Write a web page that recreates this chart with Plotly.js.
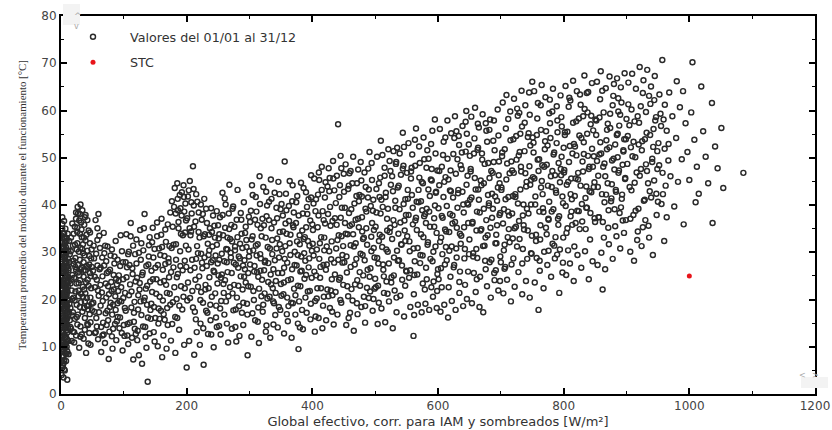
<!DOCTYPE html>
<html>
<head>
<meta charset="utf-8">
<script src="https://cdn.plot.ly/plotly-3.0.1.min.js"></script>
<style>html,body{margin:0;padding:0;background:#fff;}#chart{width:832px;height:430px;}</style>
</head>
<body>
<div id="chart"></div>
<script>
// Points: [irradiance W/m², module temperature °C], grouped by irradiance band
const band0to10 = [[1,4],[3,6],[2,8],[5,9],[1,10],[4,11],[7,12],[2,13],[6,14],[3,15],[8,16],[1,17],[5,18],[9,19],[2,20],[4,21],[7,22],[3,23],[6,24],[1,25],[8,26],[4,27],[2,28],[5,29],[9,30],[3,31],[6,32],[1,33],[4,34],[7,35],[2,36],
[6,5],[8,7],[4,8],[1,9],[9,10],[3,11],[6,12],[1,13],[8,14],[5,15],[2,16],[7,17],[4,18],[1,19],[6,20],[9,21],[3,22],[5,23],[1,24],[7,25],[3,26],[9,27],[6,28],[1,29],[4,30],[8,31],[2,32],[6,33],[3,34],
[2,5.5],[5,7],[9,8.5],[3,9.5],[7,10.5],[1,11.5],[5,12.5],[9,13.5],[3,14.5],[7,15.5],[1,16.5],[5,17.5],[3,18.5],[8,19.5],[1,20.5],[5,21.5],[8,22.5],[2,23.5],[6,24.5],[4,25.5],[1,26.5],[6,27.5],[3,29.5],[7,30.5],
[10,3],[4,3.5],[8,12],[2,14],[10,16],[6,18],[10,20],[2,22],[10,24],[4,24],[8,28],[2,30],[10,9],[6,10],[10,13],[7,19],[3,20],[9,25],[5,26],[2,27],[7,29],[5,31],[9,33],[3,16.5],[4,13],[8,18],[6,21],[1,22],[10,27],[7,32],[5,34],[2,35],[8,11],[4,6.5],[6,15],[10,18.5],[2,11],[7,23],[9,17],[1,15],[4,19.5]];
const core0to12 = [[0.5,12.3],[2.5,18.7],[4.5,24.1],[6.5,9.8],[8.5,15.2],[1.5,28.6],[3.5,21.4],[5.5,31.7],[7.5,26.9],[9.5,11.6],[0.8,19.4],[2.2,25.8],[3.8,7.9],[5.2,13.9],[6.8,29.3],[8.2,20.8],[9.8,23.6],[11,14.1],[12,26.2],[11.5,30.4],[0.3,33.6],[1.7,6.8],[3.1,16.2],[4.7,27.1],[6.1,22.9],[7.3,17.6],[8.9,32.4],[10.4,21.7],[11.8,11.2],[2.8,31.2],[4.1,10.4],[5.9,19.1],[7.7,13.4],[9.1,27.8],[10.7,33.9],[1.2,23.2],[3.4,29.9],[5.6,15.8],[7.1,8.6],[8.7,24.9],[10.1,17.2],[11.3,19.9],[0.6,15.3],[2.4,11.9],[4.3,33.1],[6.3,26.3],[8.1,30.2],[9.6,14.7],[0.9,26.9],[3.7,20.1],[6.6,17.9],[9.3,22.2],[12.5,23.8],[11.9,16.7],[1.4,8.1],[5.1,5.2],[7.9,21.3],[10.9,28.7],[4.9,36.6],[2.1,37.4]];
const band10to50 = [[12,8.4],[17,11.2],[14,15.6],[21,13.1],[11,19.8],[19,17.3],[15,23.4],[23,21.7],[13,27.9],[18,25.2],[25,30.6],[16,33.1],[22,35.4],[27,38.2],[31,40.1],[29,36.7],[34,38.9],[37,35.8],[33,33.2],[26,31.9],[39,32.5],[30,28.4],[35,29.8],[24,26.3],[41,27.1],[28,23.5],[36,24.8],[32,21.2],[44,22.9],[20,20.4],[38,19.6],[27,16.8],[43,17.9],[31,14.3],[47,15.2],[24,12.4],[36,11.7],[45,12.9],[29,9.8],[40,8.7],[49,19.1],[46,25.6],[42,30.3],[48,28.7],[44,34.6],[38,37.4],[35,31.7],[30,33.9],[26,35.2],[23,28.8],[19,31.4],[14,29.6],[12,24.7],[17,21.9],[21,24.6],[25,18.9],[33,26.7],[37,22.1],[41,20.3],[34,17.4],[28,20.7],[22,15.9],[16,13.8],[43,14.6],[39,26.2],[31,30.9],[27,27.3],[45,29.2],[48,22.4],[36,27.9],[32,36.3],[24,38.4],[20,27.5],[13,32.4],[18,36.1],[42,36.8],[46,31.9],[49,26.9],[40,23.6],[29,25.1],[35,20.6],[26,14.7],[38,16.1],[44,18.7],[33,12.6],[47,10.4],[21,10.9],[15,18.2],[11,22.8],[30,18.4]];
const core10to50 = [[13.4,19.1],[16.7,24.3],[19.6,28.2],[22.3,31.6],[25.8,34.3],[28.4,30.1],[31.2,26.4],[34.7,22.7],[37.3,29.3],[40.6,33.7],[43.2,26.8],[46.8,20.4],[14.9,14.2],[18.3,16.6],[21.7,19.8],[24.6,23.4],[27.9,21.9],[30.5,24.1],[33.8,30.7],[36.4,33.1],[39.1,37.9],[42.5,24.2],[45.7,16.9],[48.6,30.6],[11.8,26.6],[15.6,30.2],[20.2,33.9],[23.9,37.1],[26.5,39.6],[29.8,38.1],[32.6,34.8],[35.9,26.1],[38.8,21.3],[41.4,18.6],[44.9,27.4],[47.3,24.9],[12.6,17.4],[17.9,20.1],[22.8,26.9],[27.1,25.7],[31.9,19.4],[36.8,18.2],[41.9,14.8],[46.2,34.2],[18.9,13.2],[25.1,16.3],[30.9,12.1],[37.9,13.6],[43.6,10.7],[49.4,17.7]];
const band50to100 = [[52,31.4],[55,36.8],[58,27.2],[61,33.5],[54,22.6],[63,18.7],[57,14.3],[66,24.9],[69,29.8],[72,20.4],[75,15.6],[78,26.3],[81,12.2],[84,22.1],[87,17.8],[90,28.4],[93,13.9],[96,19.6],[99,24.3],[53,17.4],[59,11.6],[64,8.9],[70,10.8],[76,7.4],[82,9.6],[88,11.4],[94,16.2],[98,9.2],[51,26.1],[56,29.7],[60,20.8],[67,15.1],[73,25.6],[79,19.3],[85,27.6],[91,21.8],[97,30.2],[62,30.9],[68,34.1],[74,31.2],[80,23.7],[86,14.8],[92,25.1],[95,33.6],[57,24.2],[65,21.5],[71,17.1],[77,13.2],[83,18.9],[89,23.2],[100,14.6],[54,12.9],[63,26.7],[72,28.1],[81,30.6],[90,19.2],[58,35.1],[66,12.4],[75,22.8],[87,32.4]];
const core50to100 = [[51.4,19.3],[53.7,24.8],[56.2,16.1],[58.8,21.9],[61.3,26.4],[63.9,14.2],[66.4,19.7],[68.7,27.2],[71.2,23.4],[73.8,17.6],[76.3,21.1],[78.9,29.3],[81.5,16.8],[83.8,25.2],[86.4,20.7],[88.9,15.4],[91.6,23.9],[94.2,27.1],[96.7,12.9],[99.1,20.3],[52.6,28.7],[55.3,13.1],[57.9,32.6],[60.4,17.3],[62.8,23.1],[65.6,28.9],[67.9,12.6],[70.3,31.4],[72.7,14.6],[75.4,25.9],[77.8,18.4],[80.6,21.8],[82.9,13.8],[85.2,29.1],[87.7,24.4],[90.3,16.3],[92.9,19.7],[95.8,22.6],[98.4,27.9],[59.6,38.1]];
const band100to200 = [[102,21.4],[106,14.8],[109,27.3],[113,11.9],[117,19.5],[121,24.6],[124,8.2],[128,16.7],[131,30.4],[135,22.3],[138,2.6],[141,12.8],[144,26.1],[148,18.4],[104,33.8],[111,36.2],[118,29.6],[126,34.7],[133,38.1],[140,31.5],[146,35.2],[107,10.6],[115,7.3],[122,13.4],[129,6.4],[136,9.8],[143,15.9],[149,11.1],[103,17.6],[110,23.2],[116,15.3],[123,20.9],[130,25.7],[137,18.9],[145,21.6],[105,26.8],[112,18.3],[119,12.7],[127,28.4],[134,14.2],[142,23.8],[147,28.9],[108,30.1],[114,25.4],[120,32.7],[125,22.1],[132,19.8],[139,27.4],[150,16.1],[101,12.3],
[152,24.3],[156,30.8],[159,17.6],[163,12.4],[166,27.5],[170,35.9],[173,21.2],[177,14.8],[180,39.6],[183,31.7],[186,25.4],[189,42.1],[192,37.8],[195,44.2],[198,40.3],[154,10.1],[161,7.8],[168,9.6],[175,11.3],[182,8.7],[188,13.6],[196,10.4],[200,5.6],[157,20.6],[164,23.9],[171,28.7],[178,19.4],[185,16.1],[191,22.8],[197,28.2],[153,33.4],[160,37.1],[167,32.2],[174,38.4],[181,43.6],[187,35.1],[194,33.6],[199,36.7],[155,14.9],[162,26.3],[169,18.2],[176,30.9],[184,20.1],[190,27.1],[193,17.9],[158,29.4],[165,15.7],[172,24.7],[179,26.8],[186,38.9],[197,22.4]];
const core100to200 = [[101.6,18.2],[104.3,24.7],[106.9,29.6],[109.5,15.1],[112.2,21.7],[114.8,31.4],[117.4,13.8],[120.1,27.6],[122.7,17.9],[125.3,23.5],[127.9,31.9],[130.6,14.3],[133.2,20.4],[135.8,27.1],[138.4,16.2],[141.1,33.2],[143.7,19.1],[146.3,24.3],[148.9,30.7],[151.5,21.2],[154.2,27.3],[156.8,15.9],[159.4,33.7],[162.1,19.8],[164.7,29.2],[167.3,23.1],[169.9,14.6],[172.6,31.3],[175.2,25.8],[177.8,35.4],[180.4,22.6],[183.1,28.4],[185.7,41.3],[188.3,18.7],[190.9,33.9],[193.6,26.2],[196.2,38.6],[198.8,31.4],[102.9,27.9],[105.6,12.4],[108.2,20.9],[110.8,33.4],[113.5,26.6],[116.1,17.2],[118.7,23.8],[121.4,11.4],[124,29.9],[126.6,19.6],[129.2,25.2],[131.9,35.1],[134.5,12.1],[137.1,22.9],[139.7,29.1],[142.4,17.8],[145,32.1],[147.6,13.1],[150.2,26.7],[152.9,36.3],[155.5,18.1],[158.1,23.6],[160.8,31.1],[163.4,16.9],[166,34.8],[168.6,21.4],[171.3,27.9],[173.9,18.9],[176.5,40.8],[179.1,31.6],[181.8,16.3],[184.4,24.7],[187,36.4],[189.6,30.2],[192.3,42.7],[194.9,20.6],[197.5,34.2],[199.4,26.9],[185.1,44.6],[190.2,39.3],[195.7,41.7],[182.6,38.2]];
const band200to300 = [[202,41.8],[205,45.1],[208,38.2],[211,43.4],[214,36.5],[217,40.7],[210,48.2],[219,34.3],[203,30.6],[206,26.2],[209,21.8],[213,17.4],[216,13.1],[220,24.9],[223,29.7],[226,19.3],[229,33.8],[232,27.1],[235,22.4],[238,15.6],[241,31.2],[244,25.8],[247,18.7],[250,35.7],[204,11.2],[212,8.3],[221,10.4],[227,6.2],[234,12.7],[243,9.9],[248,14.2],[207,34.4],[215,28.6],[224,36.9],[231,39.2],[237,35.1],[240,20.6],[246,29.3],[201,19.8],[218,22.7],[225,26.6],[233,17.2],[239,27.9],[245,33.1],[249,23.4],[222,14.9],[228,41.3],[236,30.4],[242,37.8],[230,23.1],
[252,28.4],[255,19.7],[258,33.6],[261,24.1],[264,14.9],[267,38.2],[270,29.9],[273,21.3],[276,35.4],[279,11.1],[282,26.7],[285,31.8],[288,17.2],[291,40.6],[294,23.6],[297,8.2],[300,30.2],[253,37.4],[257,42.6],[262,40.1],[268,44.3],[274,39.7],[281,43.2],[287,36.9],[293,34.1],[299,37.5],[254,12.6],[260,16.8],[266,10.9],[272,13.8],[278,17.9],[284,12.3],[290,14.6],[296,19.1],[256,25.3],[263,30.7],[269,22.6],[275,27.8],[280,20.4],[286,24.9],[292,28.3],[298,25.6],[259,21.4],[265,33.1],[271,35.8],[277,31.2],[283,29.1],[289,22.1],[295,32.6],[251,32.9]];
const core200to300 = [[200.8,37.2],[203.4,43.1],[206.1,33.6],[208.7,28.4],[211.3,39.9],[213.9,24.2],[216.6,31.3],[219.2,38.4],[221.8,19.9],[224.4,27.8],[227.1,33.4],[229.7,22.1],[232.3,36.2],[234.9,29.4],[237.6,18.9],[240.2,34.3],[242.8,26.1],[245.4,21.3],[248.1,31.6],[250.7,25.1],[253.3,18.1],[255.9,29.7],[258.6,23.3],[261.2,35.2],[263.8,27.9],[266.4,20.7],[269.1,32.8],[271.7,25.6],[274.3,17.7],[276.9,30.4],[279.6,36.9],[282.2,22.9],[284.8,28.7],[287.4,33.9],[290.1,19.3],[292.7,26.4],[295.3,31.1],[297.9,22.8],[202.1,23.6],[204.7,35.1],[207.4,40.6],[210,18.3],[212.6,26.7],[215.2,42.3],[217.9,29.8],[220.5,33.1],[223.1,21.6],[225.7,38.1],[228.4,28.9],[231,17.6],[233.6,31.8],[236.2,24.7],[238.9,39.3],[241.5,28.3],[244.1,35.6],[246.7,16.2],[249.4,27.6],[252,33.8],[254.6,24.6],[257.2,37.9],[259.9,28.1],[262.5,19.6],[265.1,25.8],[267.7,34.9],[270.4,28.9],[273,39.2],[275.6,23.1],[278.2,27.4],[280.9,33.2],[283.5,18.6],[286.1,38.3],[288.7,30.9],[291.4,24.8],[294,35.4],[296.6,16.8],[299.2,29.1],[205.4,20.3],[214.6,15.8],[226.4,13.9],[239.1,12.6],[251.6,14.4],[264.8,30.6],[277.5,14.2],[289.8,27.2],[211.8,35.4],[222.6,40.1],[235.7,33.7],[247.9,38.7],[260.6,41.4],[272.3,32.3]];
const band300to400 = [[302,22.7],[305,33.4],[308,27.1],[311,38.6],[314,18.3],[317,29.6],[320,24.2],[323,35.7],[326,13.2],[329,31.1],[332,20.6],[335,41.3],[338,26.4],[341,16.7],[344,37.2],[347,28.9],[350,23.3],[304,44.2],[310,41.7],[316,46.1],[322,43.8],[328,39.9],[334,45.4],[340,42.6],[346,44.9],[303,12.1],[309,15.6],[315,10.8],[321,17.4],[327,14.5],[333,11.9],[339,19.2],[345,14.1],[349,17.8],[306,30.4],[312,25.8],[318,35.1],[324,21.3],[330,27.7],[336,32.6],[342,23.9],[348,34.3],[301,36.4],[307,19.9],[313,31.7],[319,20.7],[325,28.2],[331,36.8],[337,22.4],[343,30.8],
[352,25.6],[356,49.2],[359,33.9],[362,18.6],[365,29.4],[368,40.8],[371,22.3],[374,36.2],[377,14.9],[380,31.7],[383,26.1],[386,43.6],[389,20.4],[392,38.1],[395,28.7],[398,46.3],[378,9.5],[355,12.8],[361,15.4],[367,11.9],[373,16.8],[385,13.7],[391,17.2],[397,15.8],[353,37.8],[358,42.4],[364,45.1],[370,35.3],[376,41.9],[382,44.7],[388,33.2],[394,41.2],[400,35.9],[354,21.1],[360,27.8],[366,24.3],[372,30.1],[379,19.6],[384,34.6],[390,25.2],[396,21.8],[357,31.3],[363,36.6],[369,19.2],[375,27.2],[381,22.8],[387,29.8],[393,32.4],[399,24.6],[351,40.2]];
const core300to400 = [[300.9,27.4],[303.5,32.7],[306.2,21.8],[308.8,36.9],[311.4,29.3],[314,24.8],[316.7,40.2],[319.3,33.4],[321.9,18.9],[324.5,27.9],[327.2,37.6],[329.8,23.7],[332.4,30.8],[335,35.1],[337.7,19.6],[340.3,28.3],[342.9,39.4],[345.5,25.6],[348.2,31.7],[350.8,20.8],[353.4,34.4],[356,28.6],[358.7,38.9],[361.3,24.1],[363.9,31.9],[366.5,19.3],[369.2,35.7],[371.8,27.3],[374.4,40.6],[377,22.9],[379.7,33.6],[382.3,29.1],[384.9,38.2],[387.5,24.4],[390.2,35.3],[392.8,21.7],[395.4,31.4],[398,41.6],[302.2,38.8],[304.8,17.1],[307.5,25.9],[310.1,31.4],[312.7,35.8],[315.3,22.3],[318,28.7],[320.6,37.1],[323.2,26.2],[325.8,33.1],[328.5,20.2],[331.1,40.7],[333.7,25.3],[336.3,29.6],[339,36.3],[341.6,21.4],[344.2,32.9],[346.8,18.4],[349.5,39.1],[352.1,30.2],[354.7,23.6],[357.3,36.1],[360,20.4],[362.6,39.8],[365.2,33.7],[367.8,26.4],[370.5,38.4],[373.1,20.9],[375.7,32.3],[378.3,37.8],[381,25.9],[383.6,17.8],[386.2,32.8],[388.8,28.2],[391.5,39.6],[394.1,26.8],[396.7,36.7],[399.3,30.3],[305.1,42.1],[313.2,15.3],[326.6,42.8],[338.1,14.7],[347.7,42.3],[359.4,16.9],[368.6,44.2],[380.2,14.1],[389.9,42.7],[397.6,19.1],[317.5,26.1],[334.4,23.2],[355.1,26.7],[376.8,29.4]];
const band400to500 = [[402,29.3],[405,38.7],[408,22.4],[411,45.3],[414,33.2],[417,18.7],[420,41.6],[423,27.4],[426,47.8],[429,35.6],[432,20.9],[435,43.1],[438,30.8],[441,57.1],[444,24.6],[447,39.4],[450,46.6],[404,13.2],[410,16.1],[416,13.9],[422,15.6],[428,18.2],[434,14.7],[440,16.8],[446,19.3],[403,45.6],[409,42.2],[415,48.1],[421,44.8],[427,42.9],[433,49.3],[439,46.2],[445,50.4],[406,25.1],[412,31.9],[418,36.8],[424,22.1],[430,28.5],[436,37.2],[442,33.6],[448,27.8],[401,34.7],[407,20.2],[413,26.9],[419,30.4],[425,38.1],[431,24.3],[437,21.6],[443,41.7],[449,31.3],
[452,36.2],[455,25.7],[458,44.1],[461,31.5],[464,19.8],[467,40.3],[470,28.6],[473,47.5],[476,22.9],[479,37.4],[482,33.1],[485,43.8],[488,26.3],[491,51.2],[494,30.2],[497,41.1],[500,24.4],[454,14.6],[460,17.2],[466,13.4],[472,16.9],[478,18.4],[484,15.1],[490,20.3],[496,17.6],[453,48.6],[459,46.7],[465,50.2],[471,44.6],[477,49.1],[483,46.9],[489,47.7],[495,45.3],[456,33.8],[462,39.1],[468,23.2],[474,35.3],[480,29.4],[486,38.6],[492,21.7],[498,34.7],[451,27.9],[457,20.7],[463,35.9],[469,31.9],[475,42.1],[481,25.1],[487,22.5],[493,39.8],[499,28.9]];
const core400to500 = [[400.6,31.8],[403.2,25.9],[405.9,41.2],[408.5,35.3],[411.1,28.6],[413.7,22.4],[416.4,38.7],[419,33.1],[421.6,26.3],[424.2,43.9],[426.9,30.2],[429.5,21.9],[432.1,36.6],[434.7,27.8],[437.4,40.4],[440,32.6],[442.6,24.2],[445.2,37.3],[447.9,29.4],[450.5,42.8],[453.1,33.9],[455.7,22.8],[458.4,38.3],[461,26.9],[463.6,44.6],[466.2,31.2],[468.9,36.9],[471.5,24.1],[474.1,40.8],[476.7,29.7],[479.4,34.4],[482,20.6],[484.6,39.2],[487.2,31.6],[489.9,43.3],[492.5,26.6],[495.1,36.2],[497.7,30.9],[401.9,40.3],[404.5,19.7],[407.2,30.6],[409.8,37.8],[412.4,24.6],[415,43.2],[417.7,27.3],[420.3,36.1],[422.9,31.2],[425.5,20.7],[428.2,39.6],[430.8,32.3],[433.4,45.6],[436,25.3],[438.7,35.8],[441.3,28.4],[443.9,44.2],[446.5,33.4],[449.2,23.1],[451.8,39.4],[454.4,29.1],[457,43.4],[459.7,35.6],[462.3,22.2],[464.9,33.8],[467.5,27.4],[470.2,41.9],[472.8,37.1],[475.4,25.8],[478,45.2],[480.7,32.8],[483.3,28.3],[485.9,35.1],[488.5,41.6],[491.2,24.8],[493.8,33.3],[496.4,38.8],[499,22.3],[405.2,16.4],[418.3,20.6],[431.5,17.4],[444.6,19.9],[457.8,16.1],[470.9,19.2],[484.1,18.6],[497.3,20.1],[410.4,46.9],[427.6,45.7],[446.1,47.8],[460.9,47.2],[478.8,41.8],[494.4,48.9]];
const band500to600 = [[502,38.4],[505,27.6],[508,45.8],[511,33.3],[514,21.4],[517,42.6],[520,30.1],[523,49.3],[526,24.7],[529,36.8],[532,40.9],[535,52.1],[538,28.3],[541,46.4],[544,55.3],[547,34.6],[550,25.9],[504,14.8],[510,18.1],[516,15.2],[522,19.6],[528,13.9],[534,17.3],[540,20.8],[546,16.4],[503,50.2],[509,53.6],[515,47.9],[521,51.8],[527,46.1],[533,48.7],[539,50.9],[545,48.3],[506,32.4],[512,39.6],[518,23.8],[524,35.2],[530,28.9],[536,43.7],[542,31.6],[548,41.2],[501,22.6],[507,41.7],[513,26.3],[519,37.1],[525,44.3],[531,21.9],[537,33.9],[543,24.2],[549,37.9],
[552,41.3],[555,30.2],[558,47.9],[561,12.3],[564,36.7],[567,25.3],[570,52.4],[573,33.8],[576,44.6],[579,22.1],[582,39.2],[585,49.8],[588,28.6],[591,55.7],[594,35.4],[597,42.8],[600,26.4],[556,18.4],[562,16.7],[568,18.9],[574,17.3],[580,19.1],[586,17.8],[592,20.6],[598,18.2],[553,53.1],[559,50.7],[565,56.2],[571,48.9],[577,54.3],[583,51.6],[589,52.9],[595,58.1],[554,24.6],[560,35.9],[566,40.7],[572,29.4],[578,37.6],[584,32.1],[590,45.2],[596,31.2],[557,45.6],[563,28.1],[569,43.2],[575,38.9],[581,26.7],[587,41.9],[593,23.8],[599,47.3],[551,33.4]];
const core500to600 = [[500.7,35.4],[503.3,28.8],[506,44.6],[508.6,38.2],[511.2,31.1],[513.8,24.9],[516.5,41.7],[519.1,34.6],[521.7,27.6],[524.3,47.2],[527,32.8],[529.6,25.1],[532.2,39.4],[534.8,30.3],[537.5,44.1],[540.1,36.3],[542.7,27.2],[545.3,40.2],[548,32.4],[550.6,46.8],[553.2,37.9],[555.8,26.2],[558.5,42.1],[561.1,30.8],[563.7,48.3],[566.3,34.7],[569,40.6],[571.6,27.7],[574.2,44.9],[576.8,33.2],[579.5,38.1],[582.1,24.3],[584.7,43.3],[587.3,35.4],[590,47.6],[592.6,30.1],[595.2,39.9],[597.8,34.1],[502,43.4],[504.6,22.9],[507.3,33.7],[509.9,41.1],[512.5,27.4],[515.1,46.2],[517.8,30.6],[520.4,39.2],[523,34.3],[525.6,23.6],[528.3,42.9],[530.9,35.8],[533.5,49.1],[536.1,28.2],[538.8,39.1],[541.4,31.7],[544,47.7],[546.6,36.7],[549.3,26.1],[551.9,43.2],[554.5,32.3],[557.1,47.1],[559.8,39.4],[562.4,25.2],[565,37.3],[567.6,30.9],[570.3,45.8],[572.9,40.8],[575.5,29.3],[578.1,49.7],[580.8,36.2],[583.4,31.6],[586,38.6],[588.6,45.4],[591.3,28.1],[593.9,37.2],[596.5,42.6],[599.1,25.4],[505.8,19.3],[519.7,21.2],[533.9,20.4],[547.8,22.9],[561.6,21.1],[575.8,23.4],[589.4,22.6],[598.6,21.8],[511.6,50.6],[529.2,51.4],[545.8,52.3],[563.3,53.8],[581.7,47.9],[596.1,50.9]];
const band600to700 = [[602,44.2],[605,33.1],[608,50.6],[611,27.4],[614,39.8],[617,22.6],[620,47.3],[623,36.1],[626,54.2],[629,30.8],[632,42.5],[635,25.9],[638,51.1],[641,38.4],[644,57.6],[647,46.2],[650,32.7],[604,17.4],[610,18.9],[616,16.2],[622,19.7],[628,17.8],[634,21.4],[640,18.6],[646,20.1],[603,56.1],[609,53.4],[615,57.9],[621,55.2],[627,58.8],[633,54.6],[639,56.7],[645,59.9],[606,37.7],[612,45.9],[618,30.3],[624,41.6],[630,35.2],[636,48.4],[642,28.7],[648,40.1],[601,24.3],[607,29.6],[613,34.4],[619,43.1],[625,26.8],[631,49.7],[637,33.5],[643,23.1],[649,52.8],
[652,47.6],[655,36.4],[658,54.1],[661,30.7],[664,43.3],[667,24.8],[670,50.9],[673,39.2],[676,57.3],[679,33.6],[682,45.7],[685,28.4],[688,53.6],[691,41.8],[694,35.7],[697,49.2],[700,27.9],[654,19.2],[660,21.6],[666,18.4],[672,17.3],[678,22.8],[684,20.4],[690,24.1],[696,21.9],[653,58.7],[659,60.6],[665,56.4],[671,59.2],[677,55.7],[683,58.1],[689,57.9],[695,60.2],[656,29.1],[662,38.6],[668,45.2],[674,31.4],[680,48.9],[686,37.3],[692,26.2],[698,44.6],[651,41.1],[657,25.6],[663,51.7],[669,34.9],[675,28.2],[681,40.4],[687,46.8],[693,31.9],[699,38.3]];
const core600to700 = [[600.8,39.3],[603.4,32.2],[606.1,48.1],[608.7,41.7],[611.3,34.8],[613.9,28.3],[616.6,45.4],[619.2,38.1],[621.8,31.2],[624.4,50.8],[627.1,36.4],[629.7,28.9],[632.3,43.2],[634.9,33.9],[637.6,47.6],[640.2,40.1],[642.8,30.7],[645.4,44.3],[648.1,36.2],[650.7,50.4],[653.3,41.6],[655.9,29.8],[658.6,45.7],[661.2,34.6],[663.8,52.1],[666.4,38.4],[669.1,44.2],[671.7,31.3],[674.3,48.7],[676.9,36.8],[679.6,42.1],[682.2,27.9],[684.8,47.2],[687.4,39.2],[690.1,51.6],[692.7,33.7],[695.3,43.7],[697.9,37.9],[602.1,47.2],[604.7,26.6],[607.4,37.3],[610,44.9],[612.6,31.1],[615.2,49.8],[617.9,34.3],[620.5,42.9],[623.1,37.8],[625.7,27.3],[628.4,46.6],[631,39.4],[633.6,52.7],[636.2,31.8],[638.9,42.8],[641.5,35.3],[644.1,51.3],[646.7,40.4],[649.4,29.6],[652,47.1],[654.6,36.1],[657.2,50.9],[659.9,43.3],[662.5,28.8],[665.1,41.1],[667.7,34.6],[670.4,49.6],[673,44.6],[675.6,33.1],[678.2,53.4],[680.9,39.9],[683.5,35.2],[686.1,42.4],[688.7,49.1],[691.4,31.9],[694,40.9],[696.6,46.3],[699.2,29.1],[605.9,22.6],[619.8,24.8],[634,23.7],[647.9,25.9],[661.7,24.3],[675.9,26.4],[689.5,25.6],[698.7,23.9],[611.7,54.3],[629.3,55.6],[645.9,55.1],[663.4,57.2],[681.8,55.9],[696.2,54.7]];
const band700to800 = [[702,50.3],[705,39.1],[708,56.2],[711,33.2],[714,46.7],[717,27.4],[720,53.9],[723,42.3],[726,60.4],[729,36.6],[732,48.1],[735,30.7],[738,57.4],[741,44.9],[744,38.2],[747,52.6],[750,66.1],[704,21.3],[710,24.2],[716,19.6],[722,22.7],[728,25.8],[734,21.1],[740,23.9],[746,20.4],[703,61.7],[709,63.3],[715,59.8],[721,62.5],[727,58.9],[733,64.2],[739,61.1],[745,63.8],[706,31.6],[712,41.7],[718,47.3],[724,35.4],[730,51.2],[736,40.1],[742,28.6],[748,45.3],[701,43.7],[707,26.9],[713,37.8],[719,32.9],[725,49.6],[731,55.1],[737,34.8],[743,54.4],[749,29.7],
[752,53.2],[755,41.8],[758,58.3],[760,17.8],[763,35.7],[766,48.4],[769,30.1],[772,55.6],[775,44.1],[778,62.3],[781,38.6],[784,50.7],[787,33.2],[790,57.9],[793,21.4],[796,46.3],[799,40.4],[754,23.6],[762,26.1],[768,22.4],[774,27.3],[780,24.8],[786,28.7],[798,25.7],[753,64.1],[759,61.6],[765,65.4],[771,62.8],[777,59.4],[783,64.6],[789,60.9],[795,63.2],[756,32.4],[764,43.7],[770,51.8],[776,36.9],[782,47.2],[788,42.6],[794,30.6],[800,52.1],[751,45.9],[757,28.8],[767,39.3],[773,33.8],[779,54.2],[785,31.4],[791,37.1],[797,56.6],[761,49.7],[792,48.9]];
const core700to800 = [[700.9,43.2],[703.5,36.1],[706.2,51.8],[708.8,45.4],[711.4,38.6],[714,32.1],[716.7,49.2],[719.3,41.9],[721.9,35.1],[724.5,54.6],[727.2,40.3],[729.8,32.8],[732.4,47.1],[735,37.8],[737.7,51.4],[740.3,43.9],[742.9,34.6],[745.5,48.2],[748.2,40.1],[750.8,54.3],[753.4,45.6],[756,33.7],[758.7,49.6],[761.3,38.6],[763.9,55.9],[766.5,42.3],[769.2,48.1],[771.8,35.2],[774.4,52.6],[777,40.7],[779.7,46.1],[782.3,31.8],[784.9,51.1],[787.5,43.1],[790.2,55.4],[792.8,37.6],[795.4,47.6],[798,41.8],[702.2,51.1],[704.8,30.4],[707.5,41.2],[710.1,48.8],[712.7,34.9],[715.3,53.7],[718,38.2],[720.6,46.8],[723.2,41.7],[725.8,31.2],[728.5,50.5],[731.1,43.3],[733.7,56.6],[736.3,35.7],[739,46.7],[741.6,39.2],[744.2,55.2],[746.8,44.3],[749.5,33.5],[752.1,51.1],[754.7,40.1],[757.3,54.8],[760,47.2],[762.6,32.7],[765.2,45.1],[767.8,38.5],[770.5,53.5],[773.1,48.5],[775.7,37.1],[778.3,57.3],[781,43.8],[783.6,39.1],[786.2,46.3],[788.8,53.1],[791.5,35.8],[794.1,44.8],[796.7,50.2],[799.3,33.1],[705.9,26.5],[719.9,28.7],[734.1,27.6],[748,29.8],[761.8,28.2],[776,30.3],[789.6,29.5],[798.8,27.8],[711.8,58.2],[729.4,59.5],[746,59.1],[763.5,61.1],[781.9,59.8],[796.3,58.6]];
const band800to900 = [[802,55.4],[805,44.3],[808,60.8],[811,37.6],[814,50.9],[817,31.2],[820,57.7],[823,46.8],[826,63.4],[829,40.2],[832,53.3],[835,34.9],[838,59.6],[841,48.1],[844,42.7],[847,55.8],[850,36.4],[804,25.2],[810,27.6],[816,23.9],[822,29.4],[828,26.7],[834,30.2],[840,24.3],[846,28.1],[803,65.2],[809,62.7],[815,66.3],[821,64.1],[827,61.2],[833,67.4],[839,63.9],[845,65.8],[806,35.1],[812,45.6],[818,52.4],[824,38.7],[830,49.2],[836,43.9],[842,32.7],[848,50.3],[801,47.4],[807,30.4],[813,41.2],[819,36.2],[825,54.7],[831,58.8],[837,39.4],[843,57.1],[849,44.8],
[852,57.9],[855,46.2],[858,62.4],[862,22.1],[865,40.6],[868,53.7],[871,35.2],[874,59.3],[877,49.4],[880,65.6],[883,43.2],[886,55.1],[889,38.3],[892,61.7],[895,51.6],[898,45.7],[900,58.2],[854,27.3],[860,29.9],[866,26.4],[872,31.7],[878,28.6],[884,33.4],[890,30.8],[896,34.1],[853,66.1],[859,68.3],[867,64.7],[873,67.2],[879,63.1],[885,66.8],[891,64.9],[897,67.9],[856,37.4],[863,48.1],[869,55.9],[876,41.4],[882,52.8],[888,47.3],[894,36.7],[899,53.9],[857,50.7],[864,33.1],[870,44.6],[881,39.1],[887,59.8],[893,42.2]];
const core800to900 = [[800.6,46.9],[803.2,39.8],[805.9,55.5],[808.5,49.1],[811.1,42.3],[813.7,35.8],[816.4,52.9],[819,45.6],[821.6,38.8],[824.2,58.3],[826.9,44.1],[829.5,36.5],[832.1,50.8],[834.7,41.5],[837.4,55.1],[840,47.6],[842.6,38.3],[845.2,51.9],[847.9,43.8],[850.5,58.1],[853.1,49.3],[855.7,37.4],[858.4,53.3],[861,42.3],[863.6,59.6],[866.2,46.1],[868.9,51.8],[871.5,38.9],[874.1,56.3],[876.7,44.4],[879.4,49.8],[882,35.5],[884.6,54.8],[887.2,46.8],[889.9,59.1],[892.5,41.3],[895.1,51.3],[897.7,45.5],[801.9,54.8],[804.5,34.1],[807.2,44.9],[809.8,52.5],[812.4,38.6],[815,57.4],[817.7,41.9],[820.3,50.5],[822.9,45.4],[825.5,34.9],[828.2,54.2],[830.8,47.1],[833.4,60.3],[836,39.4],[838.7,50.4],[841.3,42.9],[843.9,58.9],[846.5,48.1],[849.2,37.2],[851.8,54.8],[854.4,43.8],[857,58.5],[859.7,50.9],[862.3,36.4],[864.9,48.8],[867.5,42.2],[870.2,57.2],[872.8,52.2],[875.4,40.8],[878,61.1],[880.7,47.5],[883.3,42.8],[885.9,50.1],[888.5,56.8],[891.2,39.5],[893.8,48.5],[896.4,53.9],[899,36.8],[810.6,62.1],[836.8,63.7],[861.4,64.2],[886.9,62.6]];
const band900to1100 = [[902,54.6],[905,43.8],[908,60.2],[911,37.9],[914,50.1],[917,32.6],[920,57.4],[923,47.6],[926,63.7],[929,41.1],[932,55.3],[935,35.6],[938,61.4],[941,49.8],[944,45.2],[947,58.6],[950,40.7],[957,70.7],[906,30.1],[912,28.2],[918,34.4],[924,31.3],[930,36.8],[936,33.1],[942,29.4],[948,37.9],[903,65.9],[909,67.8],[915,64.6],[921,69.2],[927,66.4],[933,68.6],[939,65.1],[945,67.3],[907,52.2],[913,44.7],[919,39.2],[925,53.5],[931,48.6],[937,42.9],[943,56.1],[949,51.4],
[952,48.4],[955,56.7],[958,42.3],[961,61.2],[964,37.4],[967,52.9],[970,46.1],[973,58.8],[976,39.7],[979,54.2],[982,44.9],[985,60.7],[988,49.7],[991,35.9],[994,57.3],[997,51.2],[1000,45.3],[1003,59.6],[1005,70.2],[1008,53.8],[1012,48.1],[1015,42.4],[1019,65.1],[1022,55.6],[1026,50.2],[1030,44.6],[1036,61.6],[1037,36.2],[1041,52.4],[1045,47.8],[1051,56.3],[1054,43.6],[1086,46.8],[960,32.4],[968,63.8],[980,66.2],[990,64.1],[1010,40.6]];
const core900to1000 = [[901.3,48.7],[904.6,56.9],[907.9,43.1],[911.2,53.4],[914.5,38.8],[917.8,58.8],[921.1,46.2],[924.4,51.6],[927.7,40.9],[931,59.7],[934.3,44.6],[937.6,54.8],[940.9,49.1],[944.2,62.2],[947.5,42.4],[950.8,53.1],[954.1,59.3],[957.4,46.8],[960.7,51.9],[964,55.7],[902.9,61.3],[906.2,37.1],[909.5,50.3],[912.8,57.7],[916.1,46.9],[919.4,52.8],[922.7,60.9],[926,35.3],[929.3,53.9],[932.6,47.2],[935.9,63.1],[939.2,41.6],[942.5,52.3],[945.8,57.9],[949.1,47.6],[952.4,63.4],[955.7,40.2],[959,58.1],[962.3,44.1],[966.6,49.4]];

const stcX = [1000];
const stcY = [25];

const seriesNames = ['Valores del 01/01 al 31/12', 'STC'];
const xTitle = 'Global efectivo, corr. para IAM y sombreados [W/m²]';
const yTitle = 'Temperatura promedio del módulo durante el funcionamiento [°C]';

const allPts = [].concat(band0to10, core0to12, band10to50, core10to50, band50to100, core50to100,
  band100to200, core100to200, band200to300, core200to300, band300to400, core300to400,
  band400to500, core400to500, band500to600, core500to600, band600to700, core600to700,
  band700to800, core700to800, band800to900, core800to900, band900to1100, core900to1000);
const valX = allPts.map(p => p[0]);
const valY = allPts.map(p => p[1]);

const sansFamily = 'DejaVu Sans, Verdana, sans-serif';
const tickFont = {family: sansFamily, size: 12, color: '#444'};

const traces = [
  {
    type: 'scatter', mode: 'markers', name: seriesNames[0], legendgroup: 'a',
    x: valX, y: valY,
    marker: {symbol: 'circle-open', size: 5, color: '#2a2a2a', line: {width: 1.45, color: '#2a2a2a'}},
    hoverinfo: 'x+y'
  },
  {
    type: 'scatter', mode: 'markers', name: seriesNames[1], legendgroup: 'b',
    x: stcX, y: stcY,
    marker: {symbol: 'circle', size: 5, color: '#e8141a'},
    hoverinfo: 'x+y'
  }
];

function px2paperX(px) { return (px - 61) / 754; }
function px2paperY(py) { return (394 - py) / 378; }

const layout = {
  width: 832, height: 430,
  margin: {l: 61, r: 17, t: 16, b: 36, pad: 0},
  paper_bgcolor: '#ffffff', plot_bgcolor: '#ffffff',
  showlegend: true,
  legend: {
    x: px2paperX(56), y: px2paperY(22), xanchor: 'left', yanchor: 'top',
    bgcolor: 'rgba(0,0,0,0)', borderwidth: 0, itemwidth: 64,
    traceorder: 'grouped', tracegroupgap: 6,
    font: {family: sansFamily, size: 12.7, color: '#333'}
  },
  xaxis: {
    range: [0, 1200], dtick: 200, tick0: 0,
    ticks: 'inside', ticklen: 6, tickwidth: 1.5, tickcolor: '#000',
    minor: {dtick: 100, ticks: 'inside', ticklen: 3, tickwidth: 1.2, tickcolor: '#000', showgrid: false},
    showline: true, linewidth: 2, linecolor: '#000', mirror: 'ticks',
    showgrid: false, zeroline: false, automargin: false,
    tickfont: tickFont,
    title: {text: xTitle, font: {family: sansFamily, size: 13, color: '#333'}, standoff: 4}
  },
  yaxis: {
    range: [0, 80], dtick: 10, tick0: 0,
    ticks: 'inside', ticklen: 6, tickwidth: 1.5, tickcolor: '#000',
    minor: {dtick: 5, ticks: 'inside', ticklen: 3, tickwidth: 1.2, tickcolor: '#000', showgrid: false},
    showline: true, linewidth: 2, linecolor: '#000', mirror: 'ticks',
    showgrid: false, zeroline: false, automargin: false,
    tickfont: tickFont,
    title: {text: yTitle, font: {family: 'Liberation Serif, Times New Roman, serif', size: 10.9, color: '#333'}, standoff: 13}
  },
  shapes: [
    {type: 'rect', xref: 'paper', yref: 'paper', x0: px2paperX(63), x1: px2paperX(80), y0: px2paperY(25), y1: px2paperY(4),
      fillcolor: '#f3f3f3', line: {width: 0}, layer: 'above'},
    {type: 'rect', xref: 'paper', yref: 'paper', x0: px2paperX(801), x1: px2paperX(828), y0: px2paperY(388), y1: px2paperY(377),
      fillcolor: '#f3f3f3', line: {width: 0}, layer: 'above'}
  ],
  annotations: [
    {xref: 'paper', yref: 'paper', x: px2paperX(72), y: px2paperY(9), text: '^', showarrow: false, font: {size: 9, color: '#aaa', family: 'DejaVu Sans'}},
    {xref: 'paper', yref: 'paper', x: px2paperX(72), y: px2paperY(20), text: 'v', showarrow: false, font: {size: 8, color: '#aaa', family: 'DejaVu Sans'}},
    {xref: 'paper', yref: 'paper', x: px2paperX(808), y: px2paperY(382), text: '<', showarrow: false, font: {size: 8, color: '#aaa', family: 'DejaVu Sans'}},
    {xref: 'paper', yref: 'paper', x: px2paperX(821), y: px2paperY(382), text: '>', showarrow: false, font: {size: 8, color: '#aaa', family: 'DejaVu Sans'}}
  ]
};

Plotly.newPlot('chart', traces, layout, {displayModeBar: false, staticPlot: false});
</script>
</body>
</html>
